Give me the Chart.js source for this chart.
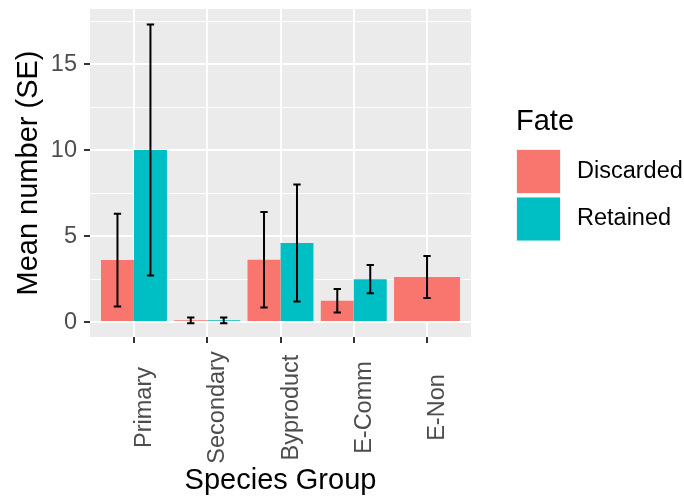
<!DOCTYPE html>
<html>
<head>
<meta charset="utf-8">
<script src="https://cdn.jsdelivr.net/npm/chart.js@4"></script>
<style>
  body { margin: 0; background: #fff; }
  canvas { display: block; }
</style>
</head>
<body>
<canvas id="grafico" width="684" height="499"></canvas>
<script>
// ================= DATA =================
const groups = ["Primary", "Secondary", "Byproduct", "E-Comm", "E-Non"];
const fates = ["Discarded", "Retained"];

const discardedMean = [3.6, 0.1, 3.62, 1.24, 2.62];
const discardedSE   = [2.7, 0.17, 2.78, 0.68, 1.22];
const retainedMean  = [10.0, 0.1, 4.6, 2.49, null];
const retainedSE    = [7.3, 0.17, 3.4, 0.82, null];

const yTickLabels = [0, 5, 10, 15];

// ================= CONFIG =================
const FONT = "'Liberation Sans', Arial, sans-serif";
const colors = ["#F8766D", "#00BFC4"];
const ctx = document.getElementById("grafico").getContext("2d");

Chart.defaults.font.family = FONT;

const toPoints = arr => arr.map((v, i) => ({ x: i, y: v }));

// grey panel behind the grid
const panelBg = {
  id: "panelBg",
  beforeDraw(chart) {
    const { ctx, chartArea: a } = chart;
    ctx.save();
    ctx.fillStyle = "#EBEBEB";
    ctx.fillRect(a.left, a.top, a.right - a.left, a.bottom - a.top);
    ctx.restore();
  }
};

// mean +/- SE whiskers
const errorBars = {
  id: "errorBars",
  afterDatasetsDraw(chart) {
    const { ctx, scales: { x, y } } = chart;
    const half = x.getPixelForValue(0.05) - x.getPixelForValue(0);
    ctx.save();
    ctx.strokeStyle = "#000";
    ctx.lineWidth = 2;
    chart.data.datasets.forEach((ds, d) => {
      const meta = chart.getDatasetMeta(d);
      meta.data.forEach((bar, i) => {
        const m = ds.data[i].y, e = ds.se[i];
        if (m == null || e == null) return;
        const top = y.getPixelForValue(m + e);
        const bot = y.getPixelForValue(m - e);
        ctx.beginPath();
        ctx.moveTo(bar.x, top); ctx.lineTo(bar.x, bot);
        ctx.moveTo(bar.x - half, top); ctx.lineTo(bar.x + half, top);
        ctx.moveTo(bar.x - half, bot); ctx.lineTo(bar.x + half, bot);
        ctx.stroke();
      });
    });
    ctx.restore();
  }
};

// vertical category labels, centred like ggplot
const xLabels = {
  id: "xLabels",
  afterDraw(chart) {
    const { ctx, scales: { x } } = chart;
    ctx.save();
    ctx.fillStyle = "#4D4D4D";
    ctx.font = "23.5px " + FONT;
    ctx.textAlign = "center";
    ctx.textBaseline = "alphabetic";
    groups.forEach((g, i) => {
      ctx.save();
      ctx.translate(x.getPixelForValue(i) + 17, 407.5);
      ctx.rotate(-Math.PI / 2);
      ctx.fillText(g, 0, 0);
      ctx.restore();
    });
    ctx.restore();
  }
};

// legend on the right
const legendBox = {
  id: "legendBox",
  afterDraw(chart) {
    const { ctx } = chart;
    ctx.save();
    ctx.fillStyle = "#000";
    ctx.font = "29px " + FONT;
    ctx.textAlign = "left";
    ctx.textBaseline = "alphabetic";
    ctx.fillText("Fate", 516, 130);
    ctx.font = "23.5px " + FONT;
    ctx.textBaseline = "middle";
    chart.data.datasets.forEach((ds, i) => {
      const top = 149 + i * 47.5;
      ctx.fillStyle = "#F2F2F2";
      ctx.fillRect(516, top, 45, 45);
      ctx.fillStyle = ds.backgroundColor;
      ctx.fillRect(517, top + 1, 43, 43);
      ctx.fillStyle = "#000";
      ctx.fillText(ds.label, 577, top + 22.5);
    });
    ctx.restore();
  }
};

const isMajor = c => c.tick && Math.abs(c.tick.value % 5) < 1e-9;

// ================= CHART =================
const grafico = new Chart(ctx, {
  type: "bar",
  data: {
    datasets: [
      { label: fates[0], data: toPoints(discardedMean), se: discardedSE, backgroundColor: colors[0] },
      { label: fates[1], data: toPoints(retainedMean), se: retainedSE, backgroundColor: colors[1] }
    ]
  },
  options: {
    responsive: false,
    animation: false,
    events: [],
    layout: { padding: { top: 9, right: 213, left: 0, bottom: 0 } },
    datasets: {
      bar: { categoryPercentage: 0.9, barPercentage: 1, skipNull: true, borderWidth: 0 }
    },
    plugins: {
      legend: { display: false },
      tooltip: { enabled: false }
    },
    scales: {
      x: {
        type: "linear",
        min: -0.6,
        max: 4.6,
        offset: false,
        ticks: { display: false, stepSize: 1, includeBounds: false },
        grid: { offset: false, color: "#fff", lineWidth: 2, tickColor: "#333", tickLength: 6, tickWidth: 2 },
        border: { display: false },
        title: {
          display: true, text: "Species Group", color: "#000",
          font: { size: 29 }, padding: { top: 0, bottom: 1 }
        },
        afterFit: s => { s.height = 162; s.paddingLeft = 0; s.paddingRight = 0; }
      },
      y: {
        min: -0.87,
        max: 18.2,
        ticks: {
          stepSize: 2.5,
          includeBounds: false,
          color: "#4D4D4D",
          font: { size: 23.5 },
          padding: 7,
          callback: v => yTickLabels.includes(v) ? String(v) : ""
        },
        grid: {
          color: "#fff",
          lineWidth: c => isMajor(c) ? 2 : 1,
          tickColor: c => isMajor(c) ? "#333" : "rgba(0,0,0,0)",
          tickLength: 6,
          tickWidth: 2
        },
        border: { display: false },
        title: {
          display: true, text: "Mean number (SE)", color: "#000",
          font: { size: 29 }, padding: { top: 12, bottom: 0 }
        },
        afterFit: s => { s.width = 90; s.paddingTop = 0; s.paddingBottom = 0; }
      }
    }
  },
  plugins: [panelBg, errorBars, xLabels, legendBox]
});
</script>
</body>
</html>
